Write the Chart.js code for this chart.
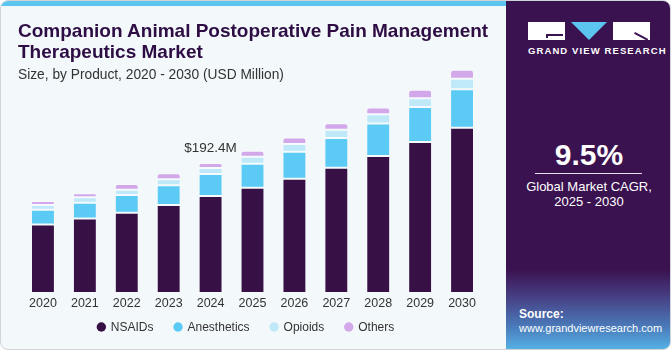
<!DOCTYPE html>
<html>
<head>
<meta charset="utf-8">
<script src="https://cdn.jsdelivr.net/npm/chart.js@4"></script>
<style>
  html, body { margin: 0; padding: 0; background: #fff; }
  #card {
    position: relative; width: 669px; height: 348px;
    background: #f3f8fb; border: 1px solid #cfd4d8; border-radius: 8px;
    overflow: hidden; font-family: "Liberation Sans", Arial, sans-serif;
  }
  #stripe { position: absolute; left: 0; top: 0; width: 506px; height: 5px; background: #5bc5f0; }
  #chartBox { position: absolute; left: -1px; top: -1px; width: 506px; height: 350px; }
  #titles { position: absolute; left: 17px; top: 0; pointer-events: none; }
  #title {
    position: absolute; left: 0; top: 19px; width: 490px;
    font-weight: bold; font-size: 19px; line-height: 21px; color: #2d0d44;
    white-space: nowrap;
  }
  #subtitle { position: absolute; left: 0; top: 66px; font-size: 13.75px; color: #333; white-space: nowrap; }
  #panel {
    position: absolute; left: 505px; top: -1px; width: 166px; height: 350px;
    background: linear-gradient(to bottom, #3b1250 0%, #3b1250 77%, #463a7e 84%, #4a78b8 93%, #55b3e6 100%);
    color: #fff; text-align: center;
  }
  #logo { position: absolute; left: 22px; top: 22px; width: 122px; height: 18px; }
  .blk { position: absolute; top: 0; height: 18px; background: #fff; }
  #gvr { position: absolute; left: 0; width: 166px; top: 45px; font-size: 9.5px; font-weight: bold; letter-spacing: 1.1px; padding-left: 22px; box-sizing: border-box; text-align: left; }
  #cagr { position: absolute; left: 0; width: 166px; top: 138px; font-size: 30px; font-weight: bold; }
  #rule { position: absolute; left: 29px; width: 107px; top: 173px; height: 1px; background: #e8e0ee; }
  #cagrTxt { position: absolute; left: 0; width: 166px; top: 179px; font-size: 13px; line-height: 15px; }
  #src { position: absolute; left: 13px; top: 307px; text-align: left; font-size: 11px; line-height: 14px; }
</style>
</head>
<body>
<div id="card">
  <div id="stripe"></div>
  <div id="chartBox"><canvas id="c" width="506" height="350"></canvas></div>
  <div id="titles">
    <div id="title">Companion Animal Postoperative Pain Management<br>Therapeutics Market</div>
    <div id="subtitle">Size, by Product, 2020 - 2030 (USD Million)</div>
  </div>
  <div id="panel">
    <div id="logo">
      <div class="blk" style="left:0;width:37px;">
        <div style="position:absolute;left:18px;top:12px;width:17px;height:1.5px;background:#3b1250"></div>
        <div style="position:absolute;left:18px;top:12px;width:1.5px;height:4px;background:#3b1250"></div>
      </div>
      <div style="position:absolute;left:43px;top:0;width:0;height:0;border-left:18.5px solid transparent;border-right:18.5px solid transparent;border-top:18px solid #5bc5f0"></div>
      <div class="blk" style="left:85px;width:37px;">
        <div style="position:absolute;left:22px;top:10px;width:15px;height:1.5px;background:#3b1250;transform:rotate(28deg);transform-origin:0 0"></div>
      </div>
    </div>
    <div id="gvr">GRAND VIEW RESEARCH</div>
    <div id="cagr">9.5%</div>
    <div id="rule"></div>
    <div id="cagrTxt">Global Market CAGR,<br>2025 - 2030</div>
    <div id="src"><b style="font-size:12px">Source:</b><br>www.grandviewresearch.com</div>
  </div>
</div>
<script>
const years = ['2020', '2021', '2022', '2023', '2024', '2025', '2026', '2027', '2028', '2029', '2030'];
const nsaids = [101.3, 110.2, 119.0, 130.4, 143.7, 155.9, 169.2, 185.5, 202.7, 223.4, 244.5];
const anesthetics = [22.1, 23.6, 26.1, 29.1, 32.5, 35.4, 39.9, 43.9, 48.3, 52.1, 57.1];
const opioids = [6.9, 8.0, 7.8, 8.9, 8.9, 10.3, 11.4, 12.3, 13.7, 12.8, 15.8];
const others = [5.9, 5.9, 8.4, 8.9, 7.3, 8.9, 9.9, 9.5, 9.9, 12.8, 13.3];
const labelYear = '2024';

const FONT = '"Liberation Sans", Arial, sans-serif';

// total label above one bar
const totalLabel = {
  id: 'totalLabel',
  afterDatasetsDraw(chart) {
    const i = years.indexOf(labelYear);
    const top = chart.getDatasetMeta(3).data[i];
    let sum = 0;
    chart.data.datasets.forEach(ds => { sum += ds.data[i]; });
    const ctx = chart.ctx;
    ctx.save();
    ctx.font = '13.5px ' + FONT;
    ctx.fillStyle = '#333';
    ctx.textAlign = 'center';
    ctx.textBaseline = 'middle';
    ctx.fillText('$' + sum.toFixed(1) + 'M', top.x, top.y - 15);
    ctx.restore();
  }
};

// dot legend under the axis, centred on the plot
const dotLegend = {
  id: 'dotLegend',
  afterDraw(chart) {
    const ctx = chart.ctx;
    const sets = chart.data.datasets;
    const r = 4.7, gapText = 9.5, gapItem = 24.5;
    ctx.save();
    ctx.font = '12px ' + FONT;
    ctx.textBaseline = 'middle';
    const widths = sets.map(s => ctx.measureText(s.label).width);
    let total = 0;
    widths.forEach((w, k) => { total += r + gapText + w + (k < widths.length - 1 ? gapItem : 0); });
    const area = chart.chartArea;
    let x = (area.left + area.right) / 2 - total / 2 + r;
    const y = area.bottom + 34;
    sets.forEach((s, k) => {
      ctx.fillStyle = s.backgroundColor;
      ctx.beginPath();
      ctx.arc(x, y, r, 0, Math.PI * 2);
      ctx.fill();
      ctx.fillStyle = '#333';
      ctx.fillText(s.label, x + gapText, y + 0.5);
      x += gapText + widths[k] + gapItem;
    });
    ctx.restore();
  }
};

function ds(label, data, color, radius) {
  return {
    label: label,
    data: data,
    backgroundColor: color,
    borderColor: 'rgba(255,255,255,0.25)',
    borderWidth: 1,
    borderSkipped: false,
    borderRadius: radius || 0,
    barPercentage: 0.57,
    categoryPercentage: 1
  };
}

new Chart(document.getElementById('c'), {
  type: 'bar',
  data: {
    labels: years,
    datasets: [
      ds('NSAIDs', nsaids, '#371046'),
      ds('Anesthetics', anesthetics, '#5bcbf5'),
      ds('Opioids', opioids, '#bfe9f8'),
      ds('Others', others, '#d3a8ea', { topLeft: 3, topRight: 3, bottomLeft: 0, bottomRight: 0 })
    ]
  },
  plugins: [totalLabel, dotLegend],
  options: {
    responsive: false,
    animation: false,
    layout: { padding: { left: 22, right: 23, top: 60, bottom: 36 } },
    plugins: {
      legend: { display: false },
      tooltip: { enabled: false }
    },
    scales: {
      x: {
        stacked: true,
        grid: { display: false, drawTicks: false },
        border: { display: false },
        ticks: { color: '#333', padding: 3, font: { family: FONT, size: 12.5 } }
      },
      y: {
        stacked: true,
        display: false,
        min: 0,
        max: 345
      }
    }
  }
});
</script>
</body>
</html>
